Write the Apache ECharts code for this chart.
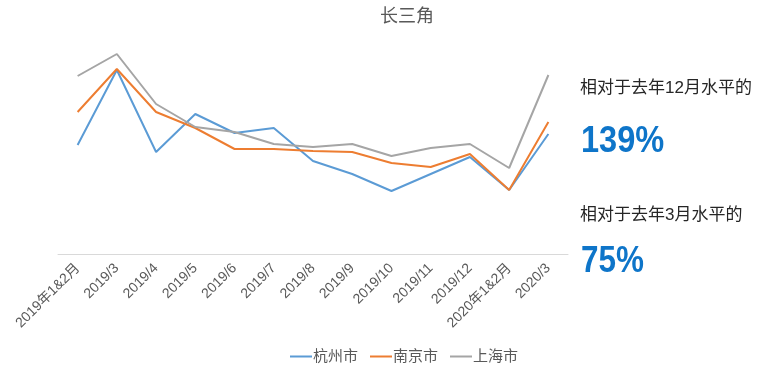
<!DOCTYPE html>
<html>
<head>
<meta charset="utf-8">
<script src="https://cdn.jsdelivr.net/npm/echarts@6/dist/echarts.min.js"></script>
<style>
html,body{margin:0;padding:0;background:#fff;}
#main{width:764px;height:374px;}
</style>
</head>
<body>
<div id="main"></div>
<script>
var categories = ['2019年1&2月','2019/3','2019/4','2019/5','2019/6','2019/7','2019/8','2019/9','2019/10','2019/11','2019/12','2020年1&2月','2020/3'];
var hangzhou = [109, 184, 102, 140, 121, 126, 93, 80, 63, 80, 97, 64, 120];
var nanjing  = [142, 185, 142, 126, 105, 105, 103, 102, 91, 87, 100, 64, 132];
var shanghai = [178, 200, 150, 127, 122, 110, 107, 110, 98, 106, 110, 86, 179];
var seriesNames = ['杭州市','南京市','上海市'];
var note1 = '相对于去年12月水平的';
var value1 = '139%';
var note2 = '相对于去年3月水平的';
var value2 = '75%';

var FONT = '"Liberation Sans", "Noto Sans CJK SC", sans-serif';
var chart = echarts.init(document.getElementById('main'), null, {renderer:'canvas'});
function ser(name, data, color){
  return {name:name, type:'line', data:data, symbol:'none', smooth:false,
    lineStyle:{width:2, color:color}, itemStyle:{color:color}};
}
chart.setOption({
  animation:false,
  textStyle:{fontFamily:FONT},
  title:{text:'长三角', left:402, top:3, textAlign:'center',
    textStyle:{fontSize:18, fontWeight:'normal', color:'#595959', fontFamily:FONT}},
  grid:{left:58, right:196, top:24, bottom:120, containLabel:false},
  legend:{bottom:5, left:285, icon:'rect', itemWidth:22, itemHeight:2, itemGap:12,
    textStyle:{fontSize:15, color:'#595959', fontFamily:FONT, padding:[0,0,0,-4]},
    data:seriesNames},
  xAxis:{type:'category', data:categories, boundaryGap:true,
    axisLine:{lineStyle:{color:'#d9d9d9', width:1}},
    axisTick:{show:false},
    axisLabel:{rotate:45, fontSize:14, color:'#595959', margin:12, interval:0, fontFamily:FONT}},
  yAxis:{type:'value', min:0, max:230, show:false, splitLine:{show:false}},
  series:[ser(seriesNames[0], hangzhou, '#5B9BD5'), ser(seriesNames[1], nanjing, '#ED7D31'), ser(seriesNames[2], shanghai, '#A5A5A5')],
  graphic:[
    {type:'text', left:580, top:80, style:{text:note1, fontSize:17, fill:'#262626', fontFamily:FONT}},
    {type:'text', x:581, y:123, scaleX:0.88, style:{text:value1, fontSize:37, fontWeight:'bold', fill:'#0E75C9', fontFamily:FONT}},
    {type:'text', left:580, top:207, style:{text:note2, fontSize:17, fill:'#262626', fontFamily:FONT}},
    {type:'text', x:581, y:243, scaleX:0.85, style:{text:value2, fontSize:37, fontWeight:'bold', fill:'#0E75C9', fontFamily:FONT}}
  ]
});
</script>
</body>
</html>
